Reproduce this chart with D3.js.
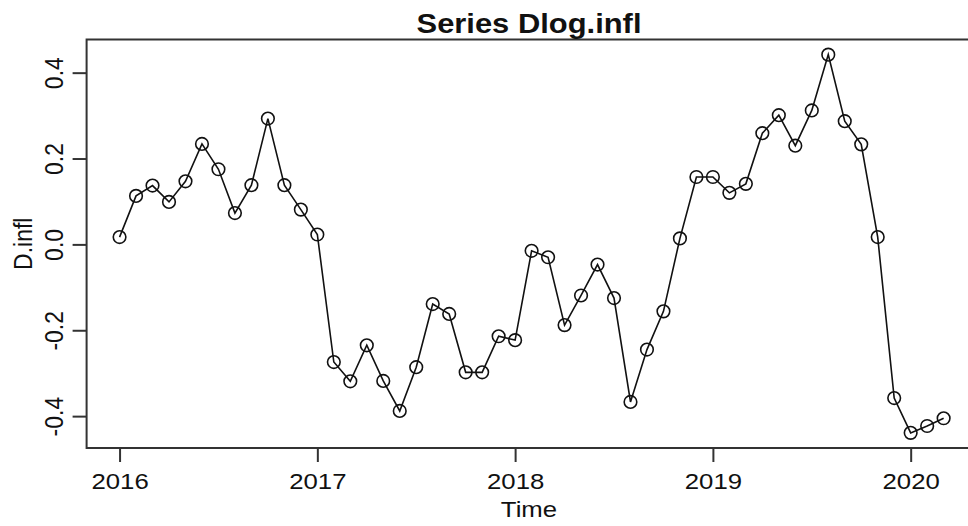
<!DOCTYPE html>
<html>
<head>
<meta charset="utf-8">
<script src="https://cdn.jsdelivr.net/npm/d3@7"></script>
<style>
  body { margin: 0; background: #fff; }
  svg { display: block; font-family: "Liberation Sans", Arial, Helvetica, sans-serif; }
</style>
</head>
<body>
<div id="chart"></div>
<script>
// Series: monthly, starting Jan 2016
var startYear = 2016,
  frequency = 12;

var values = [
  0.017, 0.113, 0.137, 0.099, 0.147, 0.234, 0.175, 0.073, 0.138, 0.293, 0.138, 0.081,
  0.023, -0.274, -0.319, -0.235, -0.318, -0.388, -0.286, -0.139, -0.162, -0.298, -0.298, -0.214,
  -0.223, -0.015, -0.030, -0.188, -0.119, -0.047, -0.125, -0.367, -0.245, -0.156, 0.014, 0.157,
  0.157, 0.120, 0.141, 0.259, 0.301, 0.230, 0.312, 0.442, 0.287, 0.233, 0.017, -0.358,
  -0.439, -0.423, -0.405
];

var xTicks = [2016, 2017, 2018, 2019, 2020];
var yTicks = [-0.4, -0.2, 0.0, 0.2, 0.4];
var yTickLabels = ['-0.4', '-0.2', '0.0', '0.2', '0.4'];

var title = 'Series Dlog.infl',
  xLabel = 'Time',
  yLabel = 'D.infl';

// Set dimensions (plot box runs past the right edge, as in the picture)
var width = 968,
  height = 526,
  box = { left: 86.6, right: 976.6, top: 39.5, bottom: 448 },
  stretch = 1.12,
  fontSize = 23;

var data = values.map(function (v, i) {
  return { time: startYear + i / frequency, value: v };
});

// R style 4% padding of the data range
function padded(ext) {
  var d = (ext[1] - ext[0]) * 0.04;
  return [ext[0] - d, ext[1] + d];
}

var x = d3
  .scaleLinear()
  .domain(padded(d3.extent(data, function (d) { return d.time; })))
  .range([box.left, box.right]);

var y = d3
  .scaleLinear()
  .domain(padded(d3.extent(data, function (d) { return d.value; })))
  .range([box.bottom, box.top]);

var svg = d3
  .select('#chart')
  .append('svg')
  .attr('width', width)
  .attr('height', height);

// Box
svg
  .append('rect')
  .attr('x', box.left)
  .attr('y', box.top)
  .attr('width', box.right - box.left)
  .attr('height', box.bottom - box.top)
  .attr('fill', 'none')
  .attr('stroke', '#333')
  .attr('stroke-width', 2);

// X axis ticks
var xAxis = svg
  .append('g')
  .attr('transform', 'translate(0,' + box.bottom + ')')
  .call(d3.axisBottom(x).tickValues(xTicks).tickSize(14).tickFormat(d3.format('d')));
xAxis.select('.domain').remove();
xAxis.selectAll('line').attr('stroke', '#333').attr('stroke-width', 2);
xAxis
  .selectAll('text')
  .attr('y', null)
  .attr('dy', null)
  .attr('fill', '#111')
  .style('font-size', fontSize + 'px')
  .attr('text-anchor', 'middle')
  .attr('transform', 'translate(0,41) scale(' + stretch + ',1)');

// Y axis ticks
var yAxis = svg
  .append('g')
  .attr('transform', 'translate(' + box.left + ',0)')
  .call(d3.axisLeft(y).tickValues(yTicks).tickSize(14).tickFormat(function (d, i) {
    return yTickLabels[i];
  }));
yAxis.select('.domain').remove();
yAxis.selectAll('line').attr('stroke', '#333').attr('stroke-width', 2);
yAxis
  .selectAll('text')
  .attr('x', null)
  .attr('y', null)
  .attr('dy', null)
  .attr('fill', '#111')
  .style('font-size', fontSize + 'px')
  .attr('text-anchor', 'middle')
  .attr('transform', 'translate(-24,0) scale(' + stretch + ',1) rotate(-90)');

// Line
svg
  .append('path')
  .datum(data)
  .attr('fill', 'none')
  .attr('stroke', '#111')
  .attr('stroke-width', 1.6)
  .attr(
    'd',
    d3
      .line()
      .x(function (d) { return x(d.time); })
      .y(function (d) { return y(d.value); })
  );

// Points
svg
  .append('g')
  .selectAll('circle')
  .data(data)
  .enter()
  .append('circle')
  .attr('cx', function (d) { return x(d.time); })
  .attr('cy', function (d) { return y(d.value); })
  .attr('r', 6.3)
  .attr('fill', 'none')
  .attr('stroke', '#111')
  .attr('stroke-width', 1.6);

// Title
svg
  .append('text')
  .attr('text-anchor', 'middle')
  .attr('transform', 'translate(529,33) scale(' + stretch + ',1)')
  .style('font-size', fontSize * 1.2 + 'px')
  .style('font-weight', 'bold')
  .attr('fill', '#111')
  .text(title);

// Axis labels
svg
  .append('text')
  .attr('text-anchor', 'middle')
  .attr('transform', 'translate(529,517) scale(' + stretch + ',1)')
  .style('font-size', fontSize + 'px')
  .attr('fill', '#111')
  .text(xLabel);

svg
  .append('text')
  .attr('text-anchor', 'middle')
  .attr('transform', 'translate(32,' + (box.top + box.bottom) / 2 + ') scale(' + stretch + ',1) rotate(-90)')
  .style('font-size', fontSize + 'px')
  .attr('fill', '#111')
  .text(yLabel);
</script>
</body>
</html>
